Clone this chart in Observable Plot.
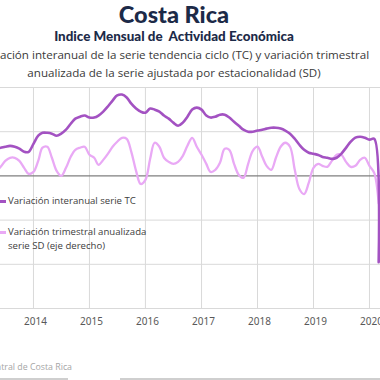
<!DOCTYPE html>
<html><head><meta charset="utf-8">
<script src="https://cdn.jsdelivr.net/npm/d3@7"></script>
<script src="https://cdn.jsdelivr.net/npm/@observablehq/plot@0.6"></script>
<style>
html,body{margin:0;padding:0;background:#fff;}
#wrap{position:relative;width:380px;height:380px;overflow:hidden;font-family:"Open Sans",sans-serif;}
.t{position:absolute;left:-26px;width:400px;text-align:center;white-space:nowrap;}
#title{top:0px;font-family:Lato,sans-serif;font-weight:900;font-size:23.5px;line-height:28px;color:#1c2a48;}
#sub1{top:28px;font-family:Lato,sans-serif;font-weight:900;font-size:13.4px;line-height:16px;color:#1c2a48;}
#sub2{top:46px;font-size:11.6px;line-height:18px;color:#3a3a3a;}
#chart{position:absolute;left:0;top:80px;}
.leg{position:absolute;left:8px;font-size:9.6px;line-height:14px;color:#404040;white-space:nowrap;}
.sw{position:absolute;left:0;width:6px;height:2.5px;}
#cap{position:absolute;right:308px;top:361px;font-size:8.8px;color:#a6a6a6;white-space:nowrap;}
.bar{position:absolute;top:378px;height:2px;background:#cfcfcf;}
</style></head><body>
<div id="wrap">
  <div class="t" id="title">Costa Rica</div>
  <div class="t" id="sub1">Indice Mensual de&nbsp; Actividad Económica</div>
  <div class="t" id="sub2">Variación interanual de la serie tendencia ciclo (TC) y variación trimestral<br>anualizada de la serie ajustada por estacionalidad (SD)</div>
  <div id="chart"></div>
  <div class="sw" style="top:200px;background:#a352c2"></div>
  <div class="leg" style="top:194px">Variación interanual serie TC</div>
  <div class="sw" style="top:231px;background:#e9a9f5"></div>
  <div class="leg" style="top:225px">Variación trimestral anualizada<br>serie SD (eje derecho)</div>
  <div id="cap">Fuente: Banco Central de Costa Rica</div>
  <div class="bar" style="left:0;width:68px"></div>
  <div class="bar" style="left:120px;width:260px"></div>
</div>
<script>
// Monthly series starting May 2013
const startMonth = "2013-05-01";
// Variación interanual serie TC (eje izquierdo, %)
const tcValues = [1.23,1.27,1.32,1.36,1.32,1.23,1.09,1.09,
  1.45,1.82,1.95,1.95,1.91,1.82,1.91,2.09,2.36,2.59,2.68,2.73,
  2.64,2.64,2.73,2.91,3.14,3.41,3.64,3.68,3.55,3.27,3.05,2.91,
  2.86,3.05,3.0,2.91,2.73,2.59,2.41,2.27,2.41,2.68,3.0,3.09,
  3.0,2.73,2.64,2.68,2.77,2.77,2.64,2.45,2.27,2.09,2.0,2.0,
  2.05,2.09,2.14,2.18,2.18,2.14,2.05,1.91,1.68,1.41,1.18,1.05,
  1.0,0.95,0.86,0.82,0.77,0.82,1.0,1.27,1.55,1.73,1.77,1.73,
  1.64,1.68,-3.91];
// Variación trimestral anualizada serie SD (eje derecho, %)
const sdValues = [0.36,0.82,1.36,1.64,1.64,1.36,0.73,0.18,
  0.36,1.36,2.55,2.64,1.64,0.45,0.0,0.73,1.73,2.36,2.55,2.64,
  1.91,1.64,1.0,1.45,2.0,2.64,3.09,3.45,3.36,2.18,0.45,-0.73,
  -0.36,1.55,3.0,2.64,1.64,1.27,1.09,1.27,1.82,2.73,3.45,2.64,
  1.91,1.09,0.36,0.55,1.18,2.45,2.36,1.09,0.09,-0.18,1.09,2.27,
  2.64,1.73,0.91,0.55,1.64,2.64,3.0,2.64,0.55,-1.18,-1.64,-0.64,
  0.73,1.09,0.91,0.82,1.36,1.91,1.91,1.27,0.82,0.91,1.45,1.64,
  0.91,0.27,-2.5];
const yearLabels = ["2014","2015","2016","2017","2018","2019","2020"];
const leftGridTicks = [-6,-4,-2,2,4];   // eje izquierdo
const leftStep = 2, rightStep = 4;      // separación de la cuadrícula en cada eje

const start = new Date(startMonth);
const data = tcValues.map((v, i) => ({
  date: d3.utcMonth.offset(start, i),
  tc: v,
  sd: sdValues[i]
}));
const yearDates = yearLabels.map(y => new Date(y + "-01-01"));
const ratio = leftStep / rightStep;

const chart = Plot.plot({
  width: 380,
  height: 255,
  marginTop: 7,
  marginBottom: 27,
  marginLeft: 0,
  marginRight: 0,
  x: {type: "utc", domain: [new Date("2013-05-31"), new Date("2020-03-13")], label: null},
  y: {domain: [-6, 4], axis: null},
  marks: [
    Plot.gridY(leftGridTicks, {stroke: "#d9d9d9", strokeOpacity: 1, strokeWidth: 1}),
    Plot.gridX(yearDates, {stroke: "#d9d9d9", strokeOpacity: 1, strokeWidth: 1}),
    Plot.ruleY([0], {stroke: "#7f7f7f", strokeWidth: 1.3}),
    Plot.line(data, {x: "date", y: d => d.sd * ratio, stroke: "#e9a9f5", strokeWidth: 2.3, curve: "catmull-rom", clip: true}),
    Plot.line(data, {x: "date", y: "tc", stroke: "#a352c2", strokeWidth: 2.6, curve: "catmull-rom", clip: true}),
    Plot.axisX(yearDates, {tickSize: 0, tickPadding: 9, tickFormat: "%Y", fontSize: 10, fill: "#595959", dx: 2, label: null})
  ]
});
document.getElementById("chart").appendChild(chart);
</script>
</body></html>
